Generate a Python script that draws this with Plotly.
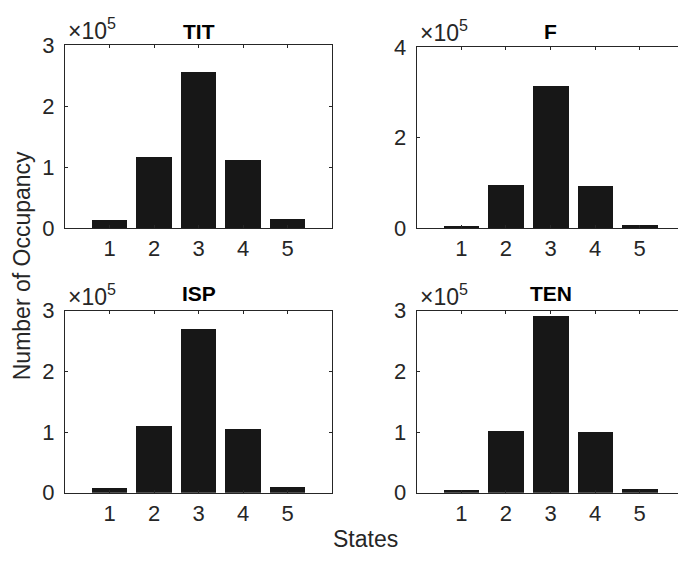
import plotly.graph_objects as go

states = [1, 2, 3, 4, 5]
tit = [12000, 115500, 256000, 111000, 14000]
f_vals = [5000, 95000, 314000, 93000, 6000]
isp = [9000, 110500, 271000, 106000, 11000]
ten = [6000, 103000, 291000, 101500, 7000]
titles = ["TIT", "F", "ISP", "TEN"]
series = [tit, f_vals, isp, ten]
ymax = [3e5, 4e5, 3e5, 3e5]
ytickvals = [[0, 1e5, 2e5, 3e5], [0, 2e5, 4e5], [0, 1e5, 2e5, 3e5], [0, 1e5, 2e5, 3e5]]
yticktext = [["0", "1", "2", "3"], ["0", "2", "4"], ["0", "1", "2", "3"], ["0", "1", "2", "3"]]

W, H = 678, 566
# pixel boxes: (left, right, top, bottom)
boxes = [(65, 332, 35, 226), (416.7, 678, 36.7, 226), (65, 332, 312.3, 503), (416.7, 678, 312.3, 503)]
xranges = [[0, 6], [0, (678 - 416.7) / 44.6], [0, 6], [0, (678 - 416.7) / 44.6]]
title_cx = [198.5, 550.5, 198.5, 550.5]
title_cy = [20, 20.5, 294, 294]

AX = "#262626"
FONT = "Liberation Sans"

fig = go.Figure()
annotations = []
for i in range(4):
    l, r, t, b = boxes[i]
    xa = "xaxis" if i == 0 else f"xaxis{i+1}"
    ya = "yaxis" if i == 0 else f"yaxis{i+1}"
    xr = "x" if i == 0 else f"x{i+1}"
    yr = "y" if i == 0 else f"y{i+1}"
    fig.add_trace(go.Bar(x=states, y=series[i], width=0.8, marker=dict(color="#171717", line=dict(width=0)),
                         xaxis=xr, yaxis=yr, showlegend=False))
    right_side = i in (1, 3)
    fig.layout[xa] = dict(domain=[l / W, r / W], range=xranges[i], anchor=yr,
                          tickvals=states, ticks="inside", ticklen=3, tickcolor=AX,
                          showline=True, linecolor=AX, linewidth=1, mirror="ticks",
                          showgrid=False, zeroline=False, ticklabelstandoff=1,
                          tickfont=dict(size=22, color=AX, family=FONT), fixedrange=True)
    fig.layout[ya] = dict(domain=[1 - b / H, 1 - t / H], range=[0, ymax[i]], anchor=xr,
                          tickvals=ytickvals[i], ticktext=yticktext[i], ticks="inside", ticklen=3,
                          tickcolor=AX, showline=True, linecolor=AX, linewidth=1,
                          mirror=False if right_side else "ticks",
                          showgrid=False, zeroline=False, ticklabelstandoff=5,
                          tickfont=dict(size=22, color=AX, family=FONT), fixedrange=True)
    annotations.append(dict(text="<b>" + titles[i] + "</b>", x=title_cx[i] / W, y=1 - title_cy[i] / H,
                            xref="paper", yref="paper", xanchor="center", yanchor="middle",
                            showarrow=False, font=dict(size=21, color="#000000", family=FONT)))
    annotations.append(dict(text="×10<sup>5</sup>", x=(l + 1) / W, y=1 - t / H, xref="paper", yref="paper",
                            xanchor="left", yanchor="bottom", showarrow=False, yshift=-1,
                            font=dict(size=23, color=AX, family=FONT)))

annotations.append(dict(text="Number of Occupancy", x=22 / W, y=1 - 266 / H, xref="paper", yref="paper",
                        xanchor="center", yanchor="middle", textangle=-90, showarrow=False,
                        font=dict(size=23, color=AX, family=FONT)))
annotations.append(dict(text="States", x=365 / W, y=1 - 551 / H, xref="paper", yref="paper",
                        xanchor="center", yanchor="middle", showarrow=False,
                        font=dict(size=23, color=AX, family=FONT)))

fig.update_layout(width=W, height=H, margin=dict(l=0, r=0, t=0, b=0),
                  paper_bgcolor="white", plot_bgcolor="white", annotations=annotations,
                  bargap=0, font=dict(family=FONT))
fig.write_html("out.html")
